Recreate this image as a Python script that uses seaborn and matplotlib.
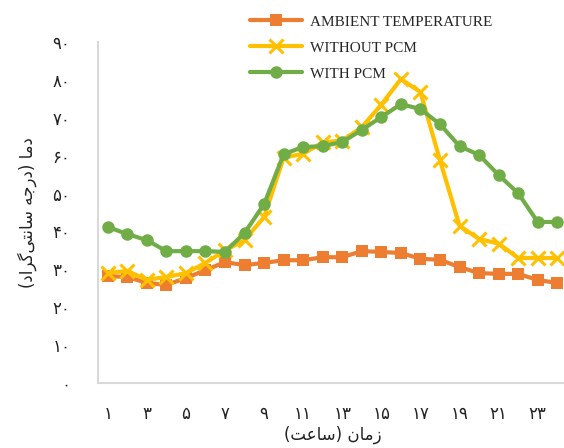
import matplotlib
matplotlib.use("Agg")
import matplotlib.pyplot as plt
import seaborn as sns
import pandas as pd

# Hourly temperatures (°C)
hours = list(range(1, 25))
ambient = [28.2, 28.0, 26.4, 25.9, 27.7, 29.8, 31.9, 31.1, 31.7, 32.4, 32.4, 33.2,
           33.2, 34.8, 34.6, 34.3, 32.8, 32.5, 30.6, 29.0, 28.8, 28.8, 27.2, 26.4]
without_pcm = [29.0, 29.6, 27.2, 28.0, 29.0, 31.7, 35.0, 37.7, 43.8, 59.5, 60.5, 63.5,
               64.0, 67.5, 73.5, 80.2, 76.8, 58.8, 41.5, 38.0, 36.8, 33.0, 33.0, 33.0]
with_pcm = [41.2, 39.3, 37.7, 34.8, 34.8, 34.8, 34.6, 39.6, 47.2, 60.4, 62.3, 62.5,
            63.6, 66.8, 70.2, 73.6, 72.3, 68.3, 62.5, 60.2, 54.9, 50.1, 42.5, 42.5]

series_names = ["AMBIENT TEMPERATURE", "WITHOUT PCM", "WITH PCM"]
series_colors = ["#ED7D31", "#FFC000", "#70AD47"]
series_markers = ["s", "x", "o"]

x_ticks = list(range(1, 24, 2))
y_ticks = list(range(0, 91, 10))

PERSIAN = str.maketrans("0123456789", "۰۱۲۳۴۵۶۷۸۹")


def fa(n):
    return str(n).translate(PERSIAN)


# Axis titles in shaped Arabic presentation forms, laid out left to right
# دما (درجه سانتی‌گراد)
w_dama = "\uFE8E\uFEE3\uFEA9"
w_daraje = "\uFEEA\uFE9F\uFEAD\uFEA9"
w_santi = "\uFBFD\uFE98\uFEE7\uFE8E\uFEB3"
w_gerad = "\uFEA9\uFE8D\uFEAE\uFB94"
ylabel_text = "(" + w_gerad + w_santi + " " + w_daraje + ") " + w_dama
# زمان (ساعت)
w_zaman = "\uFEE5\uFE8E\uFEE3\uFEAF"
w_saat = "\uFE96\uFECB\uFE8E\uFEB3"
xlabel_text = "(" + w_saat + ") " + w_zaman

df = pd.DataFrame({"hour": hours * 3,
                   "temp": ambient + without_pcm + with_pcm,
                   "series": sum([[n] * len(hours) for n in series_names], [])})

sns.set_style("white")
plt.rcParams["font.family"] = ["DejaVu Sans"]

fig = plt.figure(figsize=(5.64, 4.48), dpi=100)
ax = fig.add_axes([98 / 564, 65 / 448, 469 / 564, 341 / 448])

marker_sizes = {"s": 8.5, "x": 9.5, "o": 9}
for i, (name, color, mk) in enumerate(zip(series_names, series_colors, series_markers)):
    sub = df[df["series"] == name]
    sns.lineplot(data=sub, x="hour", y="temp", ax=ax, color=color, linewidth=3.0,
                 marker=mk, markersize=marker_sizes[mk],
                 markeredgewidth=2.2 if mk == "x" else 0,
                 markeredgecolor=color, label=name, zorder=2 + i)

ax.set_xlim(0.5, 24.5)
ax.set_ylim(0, 90)
ax.set_xticks(x_ticks)
ax.set_xticklabels([fa(t) for t in x_ticks], fontsize=12)
ax.set_yticks(y_ticks)
ax.set_yticklabels([fa(t) for t in y_ticks], fontsize=12)
ax.tick_params(axis="x", length=0, pad=16, colors="#222222")
ax.tick_params(axis="y", length=0, pad=20, colors="#222222")

for side in ["top", "right"]:
    ax.spines[side].set_visible(False)
for side in ["left", "bottom"]:
    ax.spines[side].set_color("#D9D9D9")
    ax.spines[side].set_linewidth(1.5)

ax.set_xlabel(xlabel_text, fontsize=12, labelpad=2, color="#222222")
ax.set_ylabel(ylabel_text, fontsize=12, labelpad=11, color="#222222")

ax.legend(loc="upper left", bbox_to_anchor=(250 / 564, 1 - 15 / 448),
          bbox_transform=fig.transFigure, frameon=False, borderpad=0,
          borderaxespad=0, handlelength=3.4, handletextpad=0.5,
          labelspacing=0.8, prop={"family": "Liberation Serif", "size": 11})

fig.savefig("out.png", dpi=100)
